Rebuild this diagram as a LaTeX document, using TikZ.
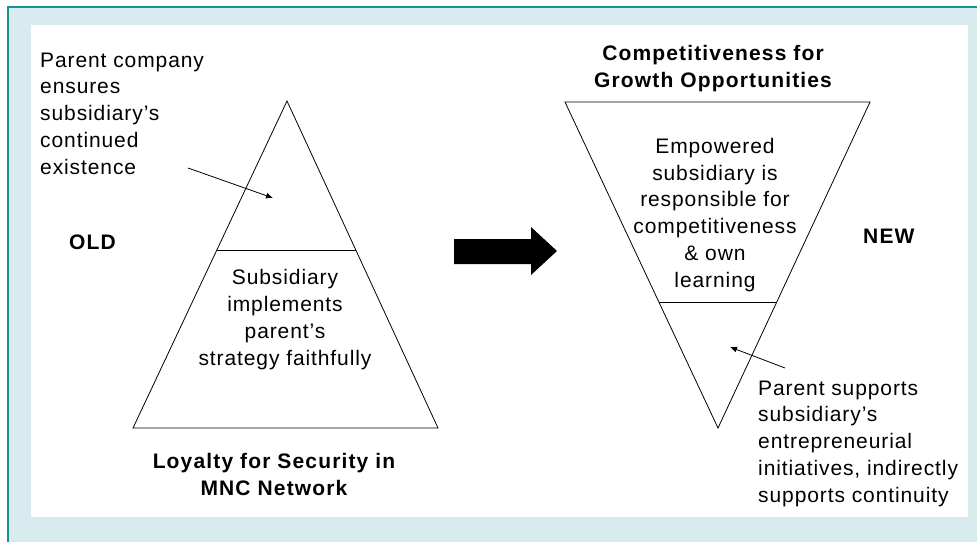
\documentclass[tikz,border=0pt]{standalone}
\usepackage{fontspec}
\setmainfont{Liberation Sans}
\newfontfamily\plainfont[Ligatures=TeX,LetterSpace=4.3]{Liberation Sans}
\newfontfamily\heavyfont[Ligatures=TeX,LetterSpace=5.5]{Liberation Sans Bold}
\usetikzlibrary{calc}
\usetikzlibrary{arrows.meta}
\definecolor{rim}{HTML}{17918F}
\definecolor{pale}{HTML}{D8EBEE}

\begin{document}
\begin{tikzpicture}[x=1pt,y=-1pt,
  txt/.style={inner sep=0pt,font=\plainfont\fontsize{21}{26.7}\selectfont},
  ttl/.style={inner sep=0pt,font=\heavyfont\fontsize{21}{26.7}\selectfont},
  pointer/.style={line width=0.8pt,-{Latex[length=7pt,width=6pt]}}]
\useasboundingbox (0,0) rectangle (977,542);
\fill[white] (0,0) rectangle (977,542);
\fill[pale] (8,7) rectangle (977,542);
\draw[rim,line width=2pt] (8,542) -- (8,7) -- (977,7);
\fill[white] (31,25) rectangle (968,517);

% old pyramid
\coordinate (oldtop) at (287,101);
\coordinate (oldleft) at (133,428);
\coordinate (oldright) at (438,428);
\draw[line width=0.8pt] (oldtop) -- (oldleft) -- (oldright) -- cycle;
\draw[line width=0.8pt] ($(oldtop)!0.456!(oldleft)$) -- ($(oldtop)!0.456!(oldright)$);

% new pyramid, upside down
\coordinate (newleft) at (565,102);
\coordinate (newright) at (870,102);
\coordinate (newtip) at (718,428);
\draw[line width=0.8pt] (newleft) -- (newright) -- (newtip) -- cycle;
\draw[line width=0.8pt] ($(newtip)!0.3865!(newleft)$) -- ($(newtip)!0.3865!(newright)$);

% texts (base = last line)
\node[txt,align=left,anchor=base west] (parentnote) at (40,174)
  {Parent company\\ensures\\subsidiary's\\continued\\existence};
\node[txt,align=center,anchor=base] (oldinner) at (285,365)
  {Subsidiary\\implements\\parent's\\strategy faithfully};
\node[ttl,anchor=base west] (oldlabel) at (69,249) {OLD};
\node[ttl,align=center,anchor=base] (oldtitle) at (274,495)
  {Loyalty for Security in\\MNC Network};

\node[ttl,align=center,anchor=base] (newtitle) at (713,87)
  {Competitiveness for\\Growth Opportunities};
\node[txt,align=center,anchor=base] (newinner) at (715,287)
  {Empowered\\subsidiary is\\responsible for\\competitiveness\\\& own\\learning};
\node[ttl,anchor=base west] (newlabel) at (863,243) {NEW};
\node[txt,align=left,anchor=base west] (supportnote) at (758,502)
  {Parent supports\\subsidiary's\\entrepreneurial\\initiatives, indirectly\\supports continuity};

% pointers
\coordinate (parentfrom) at (188,168);
\coordinate (parentto) at (273,198);
\coordinate (supportfrom) at (785,368);
\coordinate (supportto) at (730,347);
\draw[pointer] (parentfrom) -- (parentto);
\draw[pointer] (supportfrom) -- (supportto);

% big arrow
\fill[black] (454,239) -- (531,239) -- (531,227) -- (557,251)
  -- (531,275) -- (531,264) -- (454,264) -- cycle;

\end{tikzpicture}
\end{document}
